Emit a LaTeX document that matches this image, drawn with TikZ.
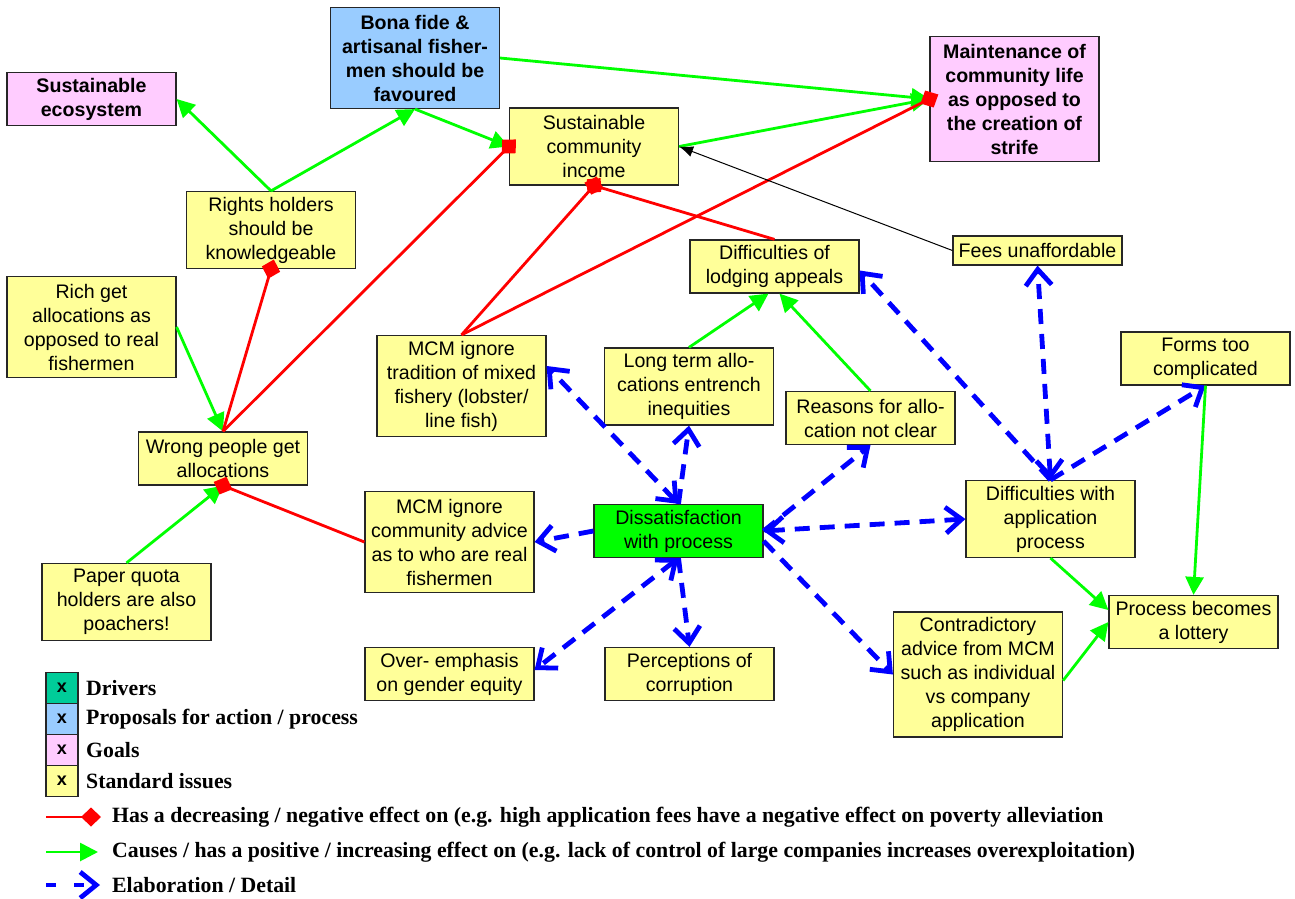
\documentclass[tikz,border=0pt]{standalone}
\usepackage{fontspec}
\setmainfont{Liberation Serif}
\setsansfont{Liberation Sans}
\usetikzlibrary{arrows.meta}

\definecolor{issue}{HTML}{FFFF99}
\definecolor{goal}{HTML}{FFCCFF}
\definecolor{proposal}{HTML}{99CCFF}
\definecolor{driver}{HTML}{00FF00}
\definecolor{driverkey}{HTML}{00CC99}
\definecolor{posline}{HTML}{00FF00}
\definecolor{negline}{HTML}{FF0000}
\definecolor{elabline}{HTML}{0000FF}

\tikzset{
  box/.style={draw=black!85, line width=1.2pt, minimum width=169pt, inner sep=2pt,
    align=center, fill=issue, font=\sffamily\fontsize{19.6}{24}\selectfont},
  lines/.style={minimum height=#1*24pt+5pt},
  goalbox/.style={box, fill=goal, font=\sffamily\bfseries\fontsize{19.6}{24}\selectfont},
  propbox/.style={box, fill=proposal, font=\sffamily\bfseries\fontsize{19.6}{24}\selectfont},
  drvbox/.style={box, fill=driver},
  poslink/.style={draw=posline, line width=2.8pt, -{Triangle[length=18pt,width=18pt]}},
  neglink/.style={draw=negline, line width=2.8pt, -{Diamond[length=20pt,width=19pt]}, shorten >=-10pt},
  elablink/.style={draw=elabline, line width=4.8pt, dash pattern=on 15pt off 10pt,
    -{Straight Barb[length=16pt,width=26pt,line width=4.8pt]}},
  elabboth/.style={elablink, {Straight Barb[length=16pt,width=26pt,line width=4.8pt]}-{Straight Barb[length=16pt,width=26pt,line width=4.8pt]}},
  thinlink/.style={draw=black, line width=1pt, -{Latex[length=14pt,width=11pt]}},
  keysq/.style={draw=black!85, line width=1.2pt, minimum width=32pt, minimum height=31pt,
    inner sep=0pt, font=\sffamily\bfseries\fontsize{18}{20}\selectfont},
  keytxt/.style={anchor=west, inner sep=0pt, font=\rmfamily\bfseries\fontsize{21.8}{24}\selectfont},
}

\begin{document}
\begin{tikzpicture}[x=1pt,y=-1pt]
\useasboundingbox (0,0) rectangle (1295,899);

% goals and proposals
\node[goalbox, lines=2] (se) at (91.5,99) {Sustainable\\ecosystem};
\node[propbox, lines=4] (bf) at (415,58) {Bona fide \&\\artisanal fisher-\\men should be\\favoured};
\node[goalbox, lines=5] (ma) at (1014.5,99) {Maintenance of\\community life\\as opposed to\\the creation of\\strife};

% standard issues
\node[box, lines=3] (sci) at (594,146.5) {Sustainable\\community\\income};
\node[box, lines=3] (rh) at (271,230) {Rights holders\\should be\\knowledgeable};
\node[box, lines=4] (rg) at (91.5,327) {Rich get\\allocations as\\opposed to real\\fishermen};
\node[box, lines=2] (dla) at (774.5,266.5) {Difficulties of\\lodging appeals};
\node[box, lines=1] (fu) at (1037.5,250.5) {Fees unaffordable};
\node[box, lines=4] (mt) at (461.5,386) {MCM ignore\\tradition of mixed\\fishery (lobster/\\line fish)};
\node[box, lines=3] (lt) at (689,386.5) {Long term allo-\\cations entrench\\inequities};
\node[box, lines=2] (ra) at (870.5,418) {Reasons for allo-\\cation not clear};
\node[box, lines=2] (ft) at (1205.5,358.5) {Forms too\\complicated};
\node[box, lines=2] (wp) at (223,458.5) {Wrong people get\\allocations};
\node[box, lines=4] (mc) at (449.5,542) {MCM ignore\\community advice\\as to who are real\\fishermen};
\node[drvbox, lines=2] (dp) at (678.5,531) {Dissatisfaction\\with process};
\node[box, lines=3] (da) at (1050.5,519) {Difficulties with\\application\\process};
\node[box, lines=3] (pq) at (126.5,602) {Paper quota\\holders are also\\poachers!};
\node[box, lines=2] (pl) at (1193.5,622) {Process becomes\\a lottery};
\node[box, lines=2] (oe) at (449.5,674) {Over- emphasis\\on gender equity};
\node[box, lines=2] (pc) at (689.5,674) {Perceptions of\\corruption};
\node[box, lines=5] (ca) at (978,674.5) {Contradictory\\advice from MCM\\such as individual\\vs company\\application};

% elaboration links
\draw[elabboth] (dp.north) -- ([yshift=20pt]mt.east);
\draw[elablink] (dp.north) -- (lt.south);
\draw[elablink] (dp.east) -- (ra.south);
\draw[elabboth] (dp.east) -- (da.west);
\draw[elablink] ([yshift=-10pt]dp.east) -- (ca.west);
\draw[elablink] (dp.south) -- (pc.north);
\draw[elabboth] (dp.south) -- ([yshift=4pt]oe.east);
\draw[elablink] (dp.west) -- (mc.east);
\draw[elablink] (da.north) -- ([yshift=-4pt]dla.east);
\draw[elabboth] (da.north) -- (fu.south);
\draw[elablink] (da.north) -- (ft.south);

% positive effects
\draw[poslink] (rh.north) -- (se.east);
\draw[poslink] (rh.north) -- (bf.south);
\draw[poslink] (bf.south) -- (sci.west);
\draw[poslink] (bf.east) -- (ma.west);
\draw[poslink] (sci.east) -- (ma.west);
\draw[poslink] (rg.east) -- (wp.north);
\draw[poslink] (pq.north) -- (wp.south);
\draw[poslink] (lt.north) -- ([xshift=-6pt]dla.south);
\draw[poslink] (ra.north) -- ([xshift=5pt]dla.south);
\draw[poslink] (da.south) -- ([yshift=12pt]pl.west);
\draw[poslink] ([yshift=-6pt]ca.east) -- (pl.west);
\draw[poslink] (ft.south) -- (pl.north);

% negative effects
\draw[neglink] (wp.north) -- (rh.south);
\draw[neglink] (wp.north) -- (sci.west);
\draw[neglink] (mt.north) -- (sci.south);
\draw[neglink] (mt.north) -- (ma.west);
\draw[neglink] (dla.north) -- (sci.south);
\draw[neglink] (mc.west) -- (wp.south);

% plain link
\draw[thinlink] (fu.west) -- (sci.east);

% key
\node[keysq, fill=driverkey] (k1) at (62,688) {x};
\node[keysq, fill=proposal] (k2) at (62,719) {x};
\node[keysq, fill=goal] (k3) at (62,750) {x};
\node[keysq, fill=issue] (k4) at (62,781) {x};
\node[keytxt] (t1) at (86,688) {Drivers};
\node[keytxt] (t2) at (86,719) {Proposals for action / process};
\node[keytxt] (t3) at (86,750) {Goals};
\node[keytxt] (t4) at (86,781) {Standard issues};

\coordinate (r0) at (46,817);
\coordinate (r1) at (91,817);
\draw[neglink] (r0) -- (r1);
\node[keytxt] (t5) at (112,817) {Has a decreasing / negative effect on (e.g. high application fees have a negative effect on poverty alleviation};

\coordinate (g0) at (46,852);
\coordinate (g1) at (98,852);
\draw[poslink] (g0) -- (g1);
\node[keytxt] (t6) at (112,852) {Causes / has a positive / increasing effect on (e.g. lack of control of large companies increases overexploitation)};

\coordinate (b0) at (46,885);
\coordinate (b1) at (100,885);
\draw[elablink, dash pattern=on 10pt off 18pt] (b0) -- (b1);
\node[keytxt] (t7) at (112,885) {Elaboration / Detail};
\end{tikzpicture}
\end{document}
